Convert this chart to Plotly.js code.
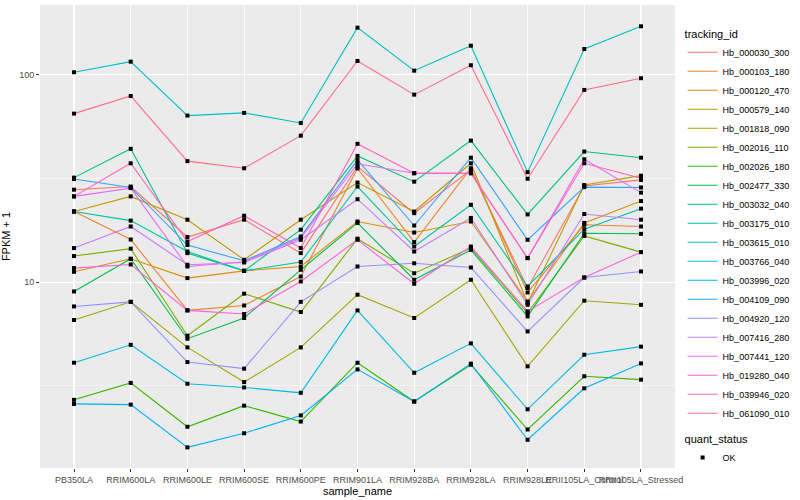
<!DOCTYPE html>
<html><head><meta charset="utf-8">
<script src="https://cdn.plot.ly/plotly-3.0.1.min.js"></script>
<style>html,body{margin:0;padding:0;background:#fff}#chart{width:800px;height:500px}</style>
</head><body><div id="chart"></div>
<script>
const samples = ["PB350LA","RRIM600LA","RRIM600LE","RRIM600SE","RRIM600PE","RRIM901LA","RRIM928BA","RRIM928LA","RRIM928LE","RRII105LA_Control","RRII105LA_Stressed"];

const trackingIds = ["Hb_000030_300","Hb_000103_180","Hb_000120_470","Hb_000579_140","Hb_001818_090","Hb_002016_110","Hb_002026_180","Hb_002477_330","Hb_003032_040","Hb_003175_010","Hb_003615_010","Hb_003766_040","Hb_003996_020","Hb_004109_090","Hb_004920_120","Hb_007416_280","Hb_007441_120","Hb_019280_040","Hb_039946_020","Hb_061090_010"];

const seriesColors = ["#F8766D","#EA8331","#D89000","#C09B00","#A3A500","#7CAE00","#39B600","#00BB4E","#00BF7D","#00C1A3","#00BFC4","#00BAE0","#00B0F6","#35A2FF","#9590FF","#C77CFF","#E76BF3","#FA62DB","#FF62BC","#FF6C91"];

// FPKM + 1 per sample
const Hb_000030_300 = [27.9, 28.9, 16.5, 20.0, 13.8, 36.1, 21.5, 34.8, 9.37, 29.1, 31.1];
const Hb_000103_180 = [21.9, 16.05, 7.31, 7.72, 10.65, 35.3, 15.6, 35.4, 8.92, 18.9, 18.55];
const Hb_000120_470 = [11.22, 12.96, 10.46, 11.34, 11.9, 19.6, 17.35, 19.6, 8.07, 19.3, 24.6];
const Hb_000579_140 = [21.9, 25.9, 20.0, 12.82, 20.0, 30.2, 21.9, 37.4, 7.93, 29.4, 32.6];
const Hb_001818_090 = [6.57, 8.04, 4.85, 3.30, 4.85, 8.70, 6.72, 10.27, 3.93, 8.14, 7.78];
const Hb_002016_110 = [13.36, 14.5, 5.52, 8.80, 7.18, 16.2, 11.04, 14.6, 7.10, 16.7, 13.96];
const Hb_002026_180 = [2.71, 3.27, 2.01, 2.54, 2.13, 4.09, 2.66, 4.00, 1.95, 3.52, 3.39];
const Hb_002477_330 = [9.02, 12.96, 5.34, 6.72, 11.47, 19.3, 10.27, 14.3, 6.84, 17.2, 17.1];
const Hb_003032_040 = [31.9, 43.9, 13.8, 11.34, 17.9, 40.6, 30.5, 48.1, 21.2, 42.6, 39.8];
const Hb_003175_010 = [21.9, 19.8, 14.05, 11.34, 12.5, 28.9, 14.85, 23.6, 9.53, 18.0, 22.6];
const Hb_003615_010 = [102.7, 115.5, 63.5, 65.4, 58.5, 168.4, 104.5, 137.9, 33.9, 132.9, 171.0];
const Hb_003766_040 = [4.09, 4.99, 3.24, 3.11, 2.93, 7.31, 3.66, 5.07, 2.44, 4.47, 4.89];
const Hb_003996_020 = [2.59, 2.57, 1.60, 1.87, 2.28, 3.80, 2.66, 4.05, 1.74, 3.08, 4.06];
const Hb_004109_090 = [31.4, 28.6, 15.1, 12.68, 16.6, 38.8, 18.75, 39.8, 16.0, 28.7, 28.6];
const Hb_004920_120 = [7.64, 8.04, 4.12, 3.83, 8.04, 11.9, 12.33, 11.77, 5.79, 10.53, 11.26];
const Hb_007416_280 = [14.6, 18.55, 12.13, 12.44, 16.0, 25.1, 14.05, 20.4, 7.78, 21.3, 20.0];
const Hb_007441_120 = [25.9, 28.4, 11.9, 12.54, 16.3, 37.2, 33.5, 33.5, 13.06, 39.1, 27.0];
const Hb_019280_040 = [11.69, 12.17, 7.31, 7.02, 10.08, 16.0, 9.82, 14.85, 7.23, 10.53, 13.96];
const Hb_039946_020 = [25.9, 37.4, 15.7, 20.9, 14.6, 46.4, 33.5, 33.5, 13.06, 37.4, 31.7];
const Hb_061090_010 = [64.9, 78.9, 38.3, 35.4, 50.8, 116.4, 80.1, 111.0, 31.5, 84.4, 96.1];

const seriesValues = [Hb_000030_300, Hb_000103_180, Hb_000120_470, Hb_000579_140, Hb_001818_090, Hb_002016_110, Hb_002026_180, Hb_002477_330, Hb_003032_040, Hb_003175_010, Hb_003615_010, Hb_003766_040, Hb_003996_020, Hb_004109_090, Hb_004920_120, Hb_007416_280, Hb_007441_120, Hb_019280_040, Hb_039946_020, Hb_061090_010];

const yTickVals = [10, 100];
const yTickText = ["10", "100"];
const yMinorVals = [3.1623, 31.623];

const traces = [];
trackingIds.forEach((id, i) => {
  traces.push({
    type: 'scatter', mode: 'lines', name: id,
    x: samples, y: seriesValues[i],
    line: {color: seriesColors[i], width: 1.1},
    legend: 'legend'
  });
});
// points layer (quant_status = OK)
const allX = [], allY = [];
seriesValues.forEach(vals => vals.forEach((v, j) => { allX.push(samples[j]); allY.push(v); }));
traces.push({
  type: 'scatter', mode: 'markers', name: 'OK',
  x: allX, y: allY,
  marker: {color: '#000000', symbol: 'square', size: 4},
  legend: 'legend2'
});

const tickFont = {family: 'Liberation Sans, Arial, sans-serif', size: 9, color: '#4D4D4D'};
const layout = {
  width: 800, height: 500,
  margin: {l: 40, r: 116, t: 5, b: 32},
  paper_bgcolor: '#FFFFFF', plot_bgcolor: '#EBEBEB',
  font: {family: 'Liberation Sans, Arial, sans-serif', size: 11, color: '#000'},
  showlegend: true,
  xaxis: {
    type: 'category', categoryorder: 'array', categoryarray: samples,
    range: [-0.6, 10.6], showgrid: true, gridcolor: '#FFFFFF', gridwidth: 1.1,
    zeroline: false, showline: false, ticks: 'outside', ticklen: 3, tickcolor: '#333333', tickwidth: 1,
    tickangle: 0, tickfont: tickFont,
    title: {text: 'sample_name', font: {size: 11, color: '#000'}, standoff: 2}
  },
  yaxis: {
    type: 'log', range: [0.1045, 2.3356],
    tickmode: 'array', tickvals: yTickVals, ticktext: yTickText,
    showgrid: true, gridcolor: '#FFFFFF', gridwidth: 1.1,
    minor: {tickmode: 'array', tickvals: yMinorVals, showgrid: true, gridcolor: '#FFFFFF', gridwidth: 0.55, ticks: ''},
    zeroline: false, showline: false, ticks: 'outside', ticklen: 3, tickcolor: '#333333', tickwidth: 1,
    tickfont: tickFont,
    title: {text: 'FPKM + 1', font: {size: 11, color: '#000'}, standoff: 8}
  },
  legend: {
    x: 1.012, xanchor: 'left', y: 0.96, yanchor: 'top',
    bgcolor: 'rgba(0,0,0,0)', borderwidth: 0,
    title: {text: 'tracking_id', font: {size: 11, color: '#000'}},
    font: {size: 9, color: '#000'}, itemwidth: 30, tracegroupgap: 0
  },
  legend2: {
    x: 1.012, xanchor: 'left', y: 0.085, yanchor: 'top',
    bgcolor: 'rgba(0,0,0,0)', borderwidth: 0,
    title: {text: 'quant_status', font: {size: 11, color: '#000'}},
    font: {size: 9, color: '#000'}, itemwidth: 30
  }
};
Plotly.newPlot('chart', traces, layout, {displayModeBar: false, staticPlot: true});
</script></body></html>
